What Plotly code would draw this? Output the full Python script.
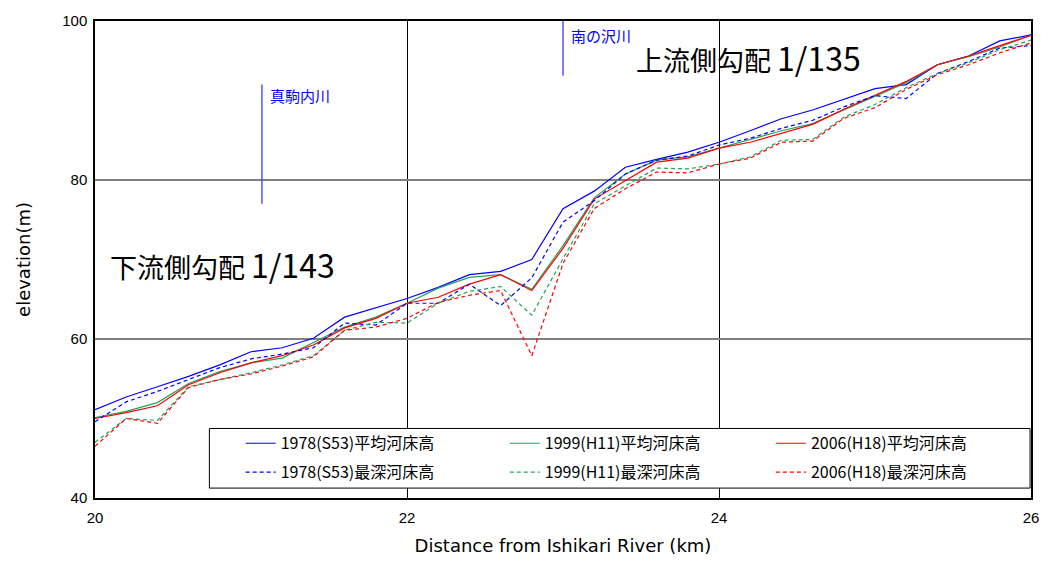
import plotly.graph_objects as go

# Distance from the Ishikari River confluence (km)
distance_km = [20.0, 20.2, 20.4, 20.6, 20.8, 21.0, 21.2, 21.4, 21.6, 21.8,
               22.0, 22.2, 22.4, 22.6, 22.8, 23.0, 23.2, 23.4, 23.6, 23.8,
               24.0, 24.2, 24.4, 24.6, 24.8, 25.0, 25.2, 25.4, 25.6, 25.8, 26.0]

# Mean riverbed elevation (m)
mean_1978 = [51.1, 52.7, 54.0, 55.3, 56.75, 58.4, 58.9, 60.1, 62.75, 63.9,
             65.1, 66.5, 68.1, 68.5, 70.0, 76.4, 78.6, 81.6, 82.6, 83.5,
             84.75, 86.2, 87.7, 88.8, 90.2, 91.5, 92.0, 94.5, 95.6, 97.5, 98.25]
mean_1999 = [50.1, 50.9, 52.0, 54.4, 55.9, 57.0, 57.6, 59.5, 61.5, 62.75,
             64.5, 66.4, 67.75, 68.1, 66.25, 71.75, 77.75, 80.75, 82.5, 82.9,
             84.0, 85.1, 86.2, 87.1, 88.8, 90.5, 92.25, 94.5, 95.5, 96.75, 98.2]
mean_2006 = [50.0, 50.75, 51.6, 54.25, 55.75, 57.0, 57.9, 59.25, 61.4, 62.6,
             64.5, 65.25, 66.9, 68.1, 66.1, 71.4, 77.6, 79.9, 82.25, 82.75,
             84.0, 84.75, 85.9, 87.0, 88.9, 90.6, 92.4, 94.5, 95.6, 96.9, 98.2]

# Deepest riverbed elevation (m)
deep_1978 = [49.6, 52.1, 53.4, 54.9, 56.4, 57.5, 58.1, 58.9, 62.0, 61.75,
             64.5, 64.5, 66.9, 64.2, 67.7, 74.7, 77.4, 80.75, 82.5, 83.0,
             84.4, 85.25, 86.5, 87.5, 89.2, 90.6, 90.25, 93.4, 94.9, 96.6, 96.9]
deep_1999 = [47.0, 50.0, 49.75, 54.0, 54.9, 55.75, 56.75, 57.9, 61.1, 62.1,
             62.0, 64.5, 66.0, 66.6, 63.0, 70.1, 77.0, 79.25, 81.5, 81.4,
             82.0, 82.9, 85.0, 85.1, 87.9, 89.5, 91.6, 93.4, 94.75, 96.4, 97.6]
deep_2006 = [46.5, 50.0, 49.4, 53.9, 54.9, 55.6, 56.6, 57.75, 61.1, 61.5,
             62.6, 64.6, 65.5, 66.1, 57.9, 69.5, 76.4, 78.9, 81.0, 80.9,
             82.0, 82.75, 84.75, 84.9, 87.75, 89.1, 91.4, 93.25, 94.5, 96.0, 97.25]

mean_names = ["1978(S53)平均河床高", "1999(H11)平均河床高", "2006(H18)平均河床高"]
deep_names = ["1978(S53)最深河床高", "1999(H11)最深河床高", "2006(H18)最深河床高"]

# Tributary confluences: (label, km, line bottom, line top, label elevation)
tributaries = [("真駒内川", 21.07, 77.0, 92.0, 90.6),
               ("南の沢川", 23.0, 93.1, 100.0, 98.2)]

# Bed slope labels: (heading, ratio, km, elevation)
slope_labels = [("下流側勾配", "1/143", 20.82, 69.4),
                ("上流側勾配", "1/135", 24.19, 95.5)]

BLUE, GREEN, RED = "#0000ff", "#23a45c", "#ff0000"
colors = [BLUE, GREEN, RED]
CJK = "Noto Sans CJK JP"
LATIN = "Liberation Sans, Arial, sans-serif"
WIDE = "DejaVu Sans, sans-serif"

# One single-entry legend per cell of the 3 x 2 key grid (paper coords)
legend_cols = [0.1556, 0.4378, 0.7221]
legend_rows = [0.1146, 0.054]

fig = go.Figure()

legend_layouts = {}
k = 1
for row, (names, series, dash) in enumerate([
        (mean_names, [mean_1978, mean_1999, mean_2006], "solid"),
        (deep_names, [deep_1978, deep_1999, deep_2006], "4px,3px")]):
    for col, (name, ys, c) in enumerate(zip(names, series, colors)):
        k += 1
        lg = f"legend{k}"
        fig.add_trace(go.Scatter(x=distance_km, y=ys, mode="lines", name=name,
                                 line=dict(color=c, width=1.2, dash=dash),
                                 legend=lg))
        legend_layouts[lg] = dict(
            x=legend_cols[col], y=legend_rows[row],
            xanchor="left", yanchor="middle", orientation="v",
            bgcolor="rgba(0,0,0,0)", borderwidth=0,
            font=dict(family=CJK, size=16, color="#000000"))

# Confluence marker lines and labels
for label, km, lo, hi, label_y in tributaries:
    fig.add_shape(type="line", x0=km, x1=km, y0=lo, y1=hi, xref="x", yref="y",
                  line=dict(color="#3a3aff", width=1.3))
    fig.add_annotation(x=km + 0.04, y=label_y, text=label, showarrow=False,
                       xanchor="left", yanchor="middle",
                       font=dict(family=CJK, size=15, color="#0000ff"))

for heading, ratio, km, elev in slope_labels:
    fig.add_annotation(x=km, y=elev,
                       text=f"{heading} <span style='font-size:32px'>{ratio}</span>",
                       showarrow=False, xanchor="center", yanchor="middle",
                       font=dict(family=CJK, size=27, color="#000000"))

# Legend frame
fig.add_shape(type="rect", xref="paper", yref="paper",
              x0=0.1222, x1=0.999, y0=0.0208, y1=0.1458,
              line=dict(color="#000000", width=1), fillcolor="#ffffff", layer="above")

fig.update_layout(
    width=1051, height=565,
    margin=dict(l=95, r=15, t=19, b=66),
    paper_bgcolor="#ffffff", plot_bgcolor="#ffffff",
    **legend_layouts,
    xaxis=dict(range=[20, 26], tickvals=[20, 22, 24, 26], ticks="",
               ticklabelstandoff=5,
               showgrid=True, gridcolor="#000000", gridwidth=1,
               showline=True, linecolor="#000000", linewidth=1.5, mirror=True,
               zeroline=False,
               tickfont=dict(family=LATIN, size=15, color="#000000"),
               title=dict(text="Distance from Ishikari River (km)", standoff=15,
                          font=dict(family=WIDE, size=18, color="#000000"))),
    yaxis=dict(range=[40, 100], tickvals=[40, 60, 80, 100], ticks="",
               ticklabelstandoff=3,
               showgrid=True, gridcolor="#808080", gridwidth=2,
               showline=True, linecolor="#000000", linewidth=1.5, mirror=True,
               zeroline=False,
               tickfont=dict(family=LATIN, size=15, color="#000000"),
               title=dict(text="elevation(m)", standoff=27,
                          font=dict(family=WIDE, size=18, color="#000000"))),
)

fig.write_html("out.html")
